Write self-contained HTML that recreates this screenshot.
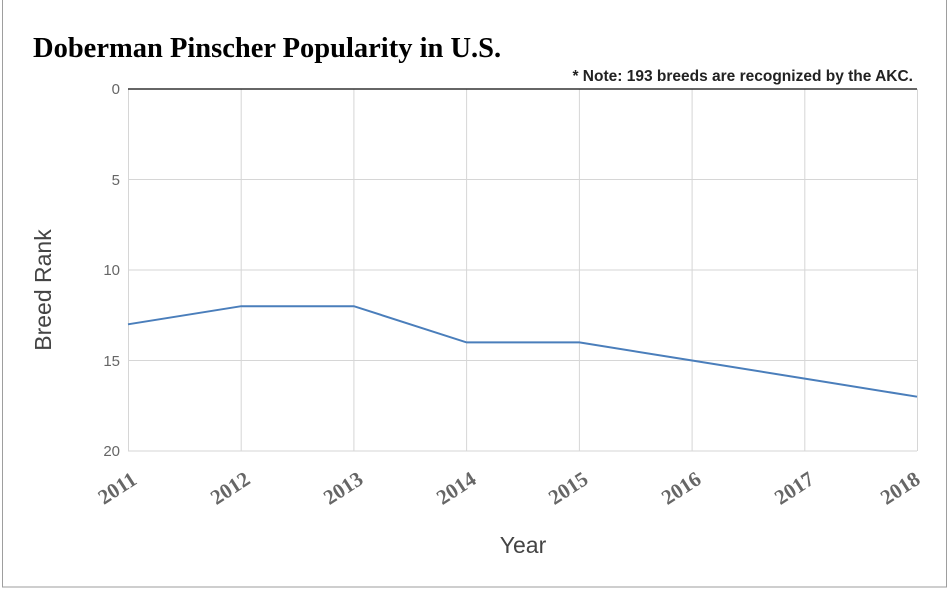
<!DOCTYPE html>
<html><head><style>
body{margin:0;background:#fff}
svg{display:block}
</style></head><body>
<svg width="950" height="590" xmlns="http://www.w3.org/2000/svg">
<rect x="2.5" y="-5" width="944" height="592" fill="#fff" stroke="#9e9e9e" stroke-width="1"/>
<text x="33" y="57" font-family="Liberation Serif, serif" font-weight="bold" font-size="28.5" fill="#000">Doberman Pinscher Popularity in U.S.</text>
<text x="913" y="81" text-anchor="end" font-family="Liberation Sans, sans-serif" font-weight="bold" font-size="15.5" fill="#222">* Note: 193 breeds are recognized by the AKC.</text>
<g stroke="#d6d6d6" stroke-width="1">
<line x1="128" y1="179.5" x2="917" y2="179.5"/>
<line x1="128" y1="270" x2="917" y2="270"/>
<line x1="128" y1="360.5" x2="917" y2="360.5"/>
<line x1="128" y1="451" x2="917" y2="451"/>
<line x1="128.5" y1="89" x2="128.5" y2="451"/>
<line x1="241.2" y1="89" x2="241.2" y2="451"/>
<line x1="353.9" y1="89" x2="353.9" y2="451"/>
<line x1="466.6" y1="89" x2="466.6" y2="451"/>
<line x1="579.4" y1="89" x2="579.4" y2="451"/>
<line x1="692.1" y1="89" x2="692.1" y2="451"/>
<line x1="804.8" y1="89" x2="804.8" y2="451"/>
<line x1="917.5" y1="89" x2="917.5" y2="451"/>
</g>
<line x1="128" y1="89" x2="917" y2="89" stroke="#333" stroke-width="1.5"/>
<g font-family="Liberation Sans, sans-serif" font-size="15" fill="#666" text-anchor="end">
<text x="120" y="94">0</text>
<text x="120" y="185">5</text>
<text x="120" y="275">10</text>
<text x="120" y="366">15</text>
<text x="120" y="456">20</text>
</g>
<polyline fill="none" stroke="#4a7ebb" stroke-width="2" points="128,324.3 241.2,306.2 353.9,306.2 466.6,342.4 579.4,342.4 692.1,360.5 804.8,378.6 917,396.7"/>
<g font-family="Liberation Serif, serif" font-weight="bold" font-size="21" fill="#666" text-anchor="middle">
<text transform="translate(121,494) rotate(-33)">2011</text>
<text transform="translate(234,494) rotate(-33)">2012</text>
<text transform="translate(347,494) rotate(-33)">2013</text>
<text transform="translate(460,494) rotate(-33)">2014</text>
<text transform="translate(572,494) rotate(-33)">2015</text>
<text transform="translate(685,494) rotate(-33)">2016</text>
<text transform="translate(798,494) rotate(-33)">2017</text>
<text transform="translate(904,494) rotate(-33)">2018</text>
</g>
<text x="523" y="553" text-anchor="middle" font-family="Liberation Sans, sans-serif" font-size="23" fill="#444">Year</text>
<text transform="translate(51,290) rotate(-90)" text-anchor="middle" font-family="Liberation Sans, sans-serif" font-size="23" fill="#444">Breed Rank</text>
</svg>
</body></html>
